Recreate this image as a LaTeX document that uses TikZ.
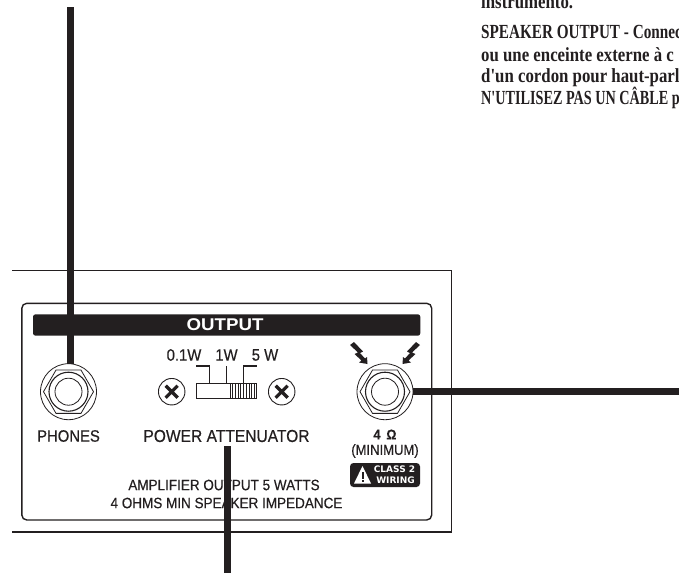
\documentclass[tikz,border=0pt]{standalone}
\usepackage{fontspec}
\setmainfont{Liberation Sans}
\newfontfamily\din[FakeStretch=0.9,FakeBold=0.35]{Liberation Sans}
\newfontfamily\dinb[FakeStretch=1.1]{Liberation Sans}
\newfontfamily\badge{DejaVu Sans}
\newfontfamily\serifcond[FakeStretch=0.84]{Liberation Serif}
\newfontfamily\serifcondcaps[FakeStretch=0.76]{Liberation Serif}
\newfontfamily\serifcondlast[FakeStretch=0.71]{Liberation Serif}
\definecolor{ink}{HTML}{231F20}
\tikzset{
  lbl/.style={font=\din\fontsize{#1}{#1}\selectfont, text=ink, inner sep=0pt, align=center},
  thin line/.style={draw=ink, line width=1.1pt},
  lead/.style={draw=ink, line width=7pt},
  manual/.style={font=\serifcond\bfseries\fontsize{20}{20}\selectfont, text=ink, inner sep=0pt, anchor=base west},
  manualcaps/.style={font=\serifcondcaps\bfseries\fontsize{20}{20}\selectfont, text=ink, inner sep=0pt, anchor=base west},
  manuallast/.style={font=\serifcondlast\bfseries\fontsize{20}{20}\selectfont, text=ink, inner sep=0pt, anchor=base west},
  screw/.style={circle, draw=ink, line width=0.9pt, minimum size=26.5pt, inner sep=0pt, fill=white},
  badgetext/.style={font=\badge\bfseries\fontsize{9}{9}\selectfont, text=white, inner sep=0pt},
}
\newcommand{\jack}[1]{%
  \draw[draw=ink, line width=0.8pt, fill=white] (#1) circle (28);
  \draw[draw=ink, line width=0.8pt] (#1) ++(0:25) -- ++(120:25) -- ++(180:25) -- ++(240:25) -- ++(300:25) -- ++(0:25) -- cycle;
  \draw[draw=ink, line width=1.1pt] (#1) circle (19.5);
  \draw[draw=ink, line width=0.8pt] (#1) circle (13.5);
}
\newcommand{\screwmark}[1]{%
  \node[screw] at (#1) {};
  \draw[draw=ink, line width=3.2pt] (#1) ++(-6,-6) -- ++(12,12) ++(-12,0) -- ++(12,-12);
}
\newcommand{\boltshape}{%
  \fill[ink] (350,345) -- (354,342) -- (363,351.5) -- (360,353) -- (365,358.5) -- (367,357) -- (367.5,364) -- (359,362.5) -- (361.5,360.5) -- (354.5,354) -- (358,352.5) -- cycle;
}
\begin{document}
\begin{tikzpicture}[x=1pt,y=-1pt]
\useasboundingbox (0,0) rectangle (679,573);
\clip (0,0) rectangle (679,573);
\fill[white] (0,0) rectangle (679,573);
% outer panel
\draw[thin line] (12,270.5) -- (451.7,270.5) -- (451.7,532) -- (12,532);
% inner panel
\draw[draw=ink, line width=1.4pt, rounded corners=5pt] (21.8,303.3) rectangle (431.7,520);
% header
\fill[ink, rounded corners=2.5pt] (33,314.3) rectangle (420.3,335.7);
\node[inner sep=0pt, text=white, font=\dinb\bfseries\fontsize{17}{17}\selectfont] (title) at (225,325) {OUTPUT};
% jacks
\jack{68.5,391.7}
\jack{385,391.7}
\coordinate (phones) at (70,364);
\coordinate (topend) at (70,7);
\coordinate (spk) at (413,391.7);
\coordinate (rightend) at (679,391.7);
\coordinate (attA) at (227.5,446);
\coordinate (attB) at (227.5,573);
% switch labels
\node[lbl=16.5] (w01) at (184,355) {0.1W};
\node[lbl=16.5] (w1) at (226.5,355) {1W};
\node[lbl=16.5] (w5) at (265,355) {5 W};
% switch
\draw[thin line] (196,366) -- (209.3,366) -- (209.3,383.5);
\draw[thin line] (226.7,366) -- (226.7,383.5);
\draw[thin line] (243.3,383.5) -- (243.3,366) -- (256.7,366);
\draw[draw=ink, line width=1.2pt] (196.7,383.5) rectangle (256.7,398.5);
\foreach \x in {230,232.7,...,256} \draw[draw=ink, line width=0.7pt] (\x,383.5) -- (\x,398.5);
\screwmark{171.7,391.7}
\screwmark{281.7,391.7}
% bolts
\boltshape
\begin{scope}[shift={(770,0)},xscale=-1]\boltshape\end{scope}
% labels
\node[lbl=16.5] (phl) at (68.5,436) {PHONES};
\node[lbl=17.3] (att) at (226.5,436) {POWER ATTENUATOR};
\node[lbl=14, font=\din\bfseries\fontsize{14}{14}\selectfont] (ohm) at (385,434.5) {4\, Ω};
\node[lbl=14.5] (min) at (385,451) {(MINIMUM)};
\node[lbl=15] (amp) at (224,485) {AMPLIFIER OUTPUT 5 WATTS};
\node[lbl=15] (imp) at (226.5,503) {4 OHMS MIN SPEAKER IMPEDANCE};
% class 2
\fill[ink, rounded corners=3.5pt] (350,463) rectangle (420,487);
\fill[white] (362.5,466) -- (371,483.5) -- (354,483.5) -- cycle;
\fill[ink] (361.5,472) rectangle (363.5,479);
\fill[ink] (361.5,480) rectangle (363.5,482);
\node[badgetext] (c2) at (394.5,469.5) {CLASS 2};
\node[badgetext] (wir) at (395.5,480) {WIRING};
% leaders
\draw[lead] (topend) -- (phones);
\draw[lead] (spk) -- (rightend);
\draw[lead] (attA) -- (attB);
% manual text
\node[manual] (m0) at (481,8) {instrumento.};
\node[manualcaps] (m1) at (481,38) {SPEAKER OUTPUT - Connec};
\node[manual] (m2) at (481,61) {ou une enceinte externe à c};
\node[manual] (m3) at (481,82) {d'un cordon pour haut-parl};
\node[manuallast] (m4) at (481,104) {N'UTILISEZ PAS UN CÂBLE p};
\end{tikzpicture}
\end{document}
